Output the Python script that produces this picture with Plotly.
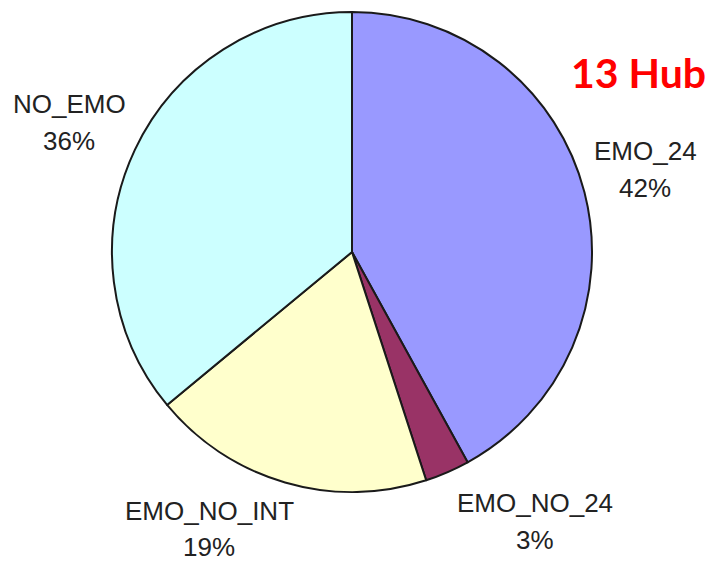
import plotly.graph_objects as go

# Share of hubs by emotion category
categories = ["EMO_24", "EMO_NO_24", "EMO_NO_INT", "NO_EMO"]
shares = [42, 3, 19, 36]
colors = ["#9999FF", "#993366", "#FFFFCC", "#CCFFFF"]

# Label anchor points (pixels from top-left) for each category's name
label_pos = {
    "EMO_24": (645, 151),
    "EMO_NO_24": (535, 503),
    "EMO_NO_INT": (209, 511),
    "NO_EMO": (69, 104),
}
title_text = "13 Hub"

W, H = 712, 564
cx, cy, r = 352, 252, 240
line_gap = 37
font_size = 26

fig = go.Figure(
    go.Pie(
        labels=categories,
        values=shares,
        sort=False,
        direction="clockwise",
        rotation=0,
        marker=dict(colors=colors, line=dict(color="#1a1a1a", width=2)),
        textinfo="none",
        hoverinfo="label+percent",
        showlegend=False,
        domain=dict(
            x=[(cx - r) / W, (cx + r) / W],
            y=[1 - (cy + r) / H, 1 - (cy - r) / H],
        ),
    )
)

total = sum(shares)
annotations = []
font = dict(family="Liberation Sans, Arial, sans-serif", size=font_size, color="#222222")
box_half = 0.65 * font_size
for cat, val in zip(categories, shares):
    x, y = label_pos[cat]
    pct = f"{round(100 * val / total)}%"
    annotations.append(dict(x=x / W, y=1 - y / H, xref="paper", yref="paper",
                            text=cat, showarrow=False, font=font,
                            xanchor="center", yanchor="middle"))
    # keep the percent line's box inside the page
    py = min(y + line_gap, H - box_half)
    annotations.append(dict(x=x / W, y=1 - py / H, xref="paper", yref="paper",
                            text=pct, showarrow=False, font=font,
                            xanchor="center", yanchor="middle"))

annotations.append(dict(x=638 / W, y=1 - 73 / H, xref="paper", yref="paper",
                        text=f"<b>{title_text}</b>", showarrow=False,
                        font=dict(family="Lato, Open Sans, sans-serif", size=41, color="#FF0000"),
                        xanchor="center", yanchor="middle"))

fig.update_layout(
    width=W, height=H,
    margin=dict(l=0, r=0, t=0, b=0),
    paper_bgcolor="white",
    plot_bgcolor="white",
    annotations=annotations,
)

fig.write_html("out.html")
